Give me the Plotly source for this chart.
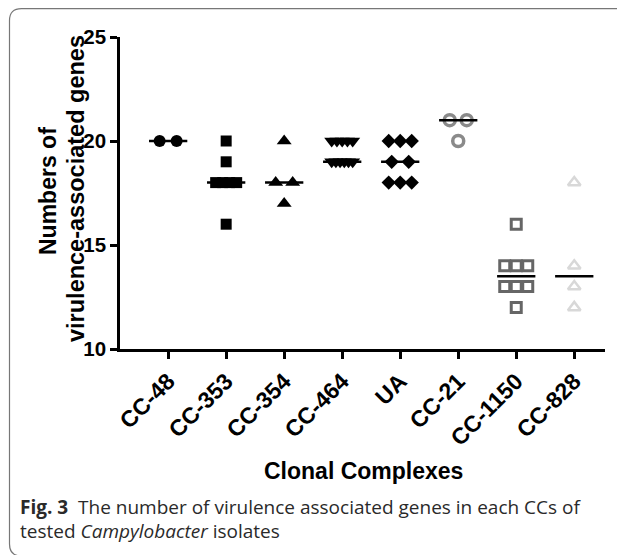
import plotly.graph_objects as go
import numpy as np
from collections import Counter

# ---- data ----
categories = ["CC-48", "CC-353", "CC-354", "CC-464", "UA", "CC-21", "CC-1150", "CC-828"]
cc48 = [20, 20]
cc353 = [20, 19, 18, 18, 18, 18, 16]
cc354 = [20, 18, 18, 17]
cc464 = [20, 20, 20, 20, 20, 19, 19, 19, 19, 19, 19]
ua = [20, 20, 20, 19, 19, 18, 18, 18]
cc21 = [21, 21, 20]
cc1150 = [16, 14, 14, 14, 13, 13, 13, 12]
cc828 = [18, 14, 13, 12]
groups = [cc48, cc353, cc354, cc464, ua, cc21, cc1150, cc828]
y_ticks = [10, 15, 20, 25]

# ---- styles ----
symbols = ["circle", "square", "triangle-up", "triangle-down", "diamond",
           "circle-open", "square-open", "triangle-up-open"]
colors = ["black", "black", "black", "black", "black", "#8a8a8a", "#666666", "#d8d8d8"]
sizes = [12, 11, 13, 13, 11, 11, 10, 11]
linew = [0, 0, 0, 0, 0, 3.5, 3, 2.5]

# page has an 8px body margin: figure pixel = page pixel - 8
OFF = 8
W, H = 617, 547
L, T = 120 - OFF, 37 - OFF
pw, ph = 485, 312
R, B = W - L - pw, H - T - ph
xr = [-0.83, 7.53]
px_per_unit = pw / (xr[1] - xr[0])


def X(px):  # page px -> paper x
    return (px - OFF - L) / pw


def Y(py):  # page px -> paper y
    return (H - B - (py - OFF)) / ph


fig = go.Figure()
for i, vals in enumerate(groups):
    cnt = Counter(vals)
    xs, ys = [], []
    for v, n in cnt.items():
        if n == 1:
            step = 0
        elif n == 2:
            step = 17
        elif n == 3:
            step = 11.5
        else:
            step = 21 / (n - 1)
        for k in range(n):
            off = (k - (n - 1) / 2) * step / px_per_unit
            xs.append(i + off)
            ys.append(v)
    fig.add_trace(go.Scatter(
        x=xs, y=ys, mode="markers",
        marker=dict(symbol=symbols[i], size=sizes[i], color=colors[i],
                    line=dict(width=linew[i], color=colors[i])),
        showlegend=False, hoverinfo="skip"))

for i, vals in enumerate(groups):
    med = float(np.median(vals))
    fig.add_trace(go.Scatter(
        x=[i - 0.33, i + 0.33], y=[med, med], mode="lines",
        line=dict(color="black", width=2.5), showlegend=False, hoverinfo="skip"))

fig.update_layout(
    width=W, height=H,
    margin=dict(l=L, r=R, t=T, b=B),
    paper_bgcolor="white", plot_bgcolor="white",
    font=dict(family="Liberation Sans, Arial", color="black"),
    xaxis=dict(range=xr, tickmode="array", tickvals=list(range(len(categories))),
               ticktext=[f"<b>{c}</b>" for c in categories], tickangle=-45,
               showline=True, linecolor="black", linewidth=2.5,
               ticks="outside", ticklen=7, tickwidth=2.5, tickcolor="black",
               showgrid=False, zeroline=False, tickfont=dict(size=23)),
    yaxis=dict(range=[10, 25], tickmode="array", tickvals=y_ticks,
               ticktext=[f"<b>{t}</b>" for t in y_ticks],
               showline=True, linecolor="black", linewidth=2.5,
               ticks="outside", ticklen=7, tickwidth=2.5, tickcolor="black",
               showgrid=False, zeroline=False, tickfont=dict(size=20.5)),
)

ann = []
ann.append(dict(text="<b>Numbers of</b>", textangle=-90, x=X(48), y=Y(191),
                xref="paper", yref="paper", xanchor="center", yanchor="middle",
                showarrow=False, font=dict(size=23)))
ann.append(dict(text="<b>virulence-associated genes</b>", textangle=-90, x=X(76),
                y=Y(189), xref="paper", yref="paper", xanchor="center",
                yanchor="middle", showarrow=False, font=dict(size=23.5)))
ann.append(dict(text="<b>Clonal Complexes</b>", x=X(363), y=Y(471),
                xref="paper", yref="paper", xanchor="center", yanchor="middle",
                showarrow=False, font=dict(size=23)))
cap_font = dict(family="Open Sans, Noto Sans", size=19, color="#2a2a2a")
ann.append(dict(text="<b>Fig. 3</b>  The number of virulence associated genes in each CCs of",
                x=X(18), y=Y(507), xref="paper", yref="paper",
                xanchor="left", yanchor="middle", showarrow=False, font=cap_font))
ann.append(dict(text="tested <i>Campylobacter</i> isolates",
                x=X(18), y=Y(531), xref="paper", yref="paper",
                xanchor="left", yanchor="middle", showarrow=False, font=cap_font))
fig.update_layout(annotations=ann)

# card border with rounded left corners
x0, y0, x1, y1, r = 9.5, 8.6, 640, 556, 12
path = (f"M {X(x1)} {Y(y0)} L {X(x0 + r)} {Y(y0)} Q {X(x0)} {Y(y0)} {X(x0)} {Y(y0 + r)} "
        f"L {X(x0)} {Y(y1 - r)} Q {X(x0)} {Y(y1)} {X(x0 + r)} {Y(y1)}")
fig.add_shape(type="path", path=path, xref="paper", yref="paper",
              line=dict(color="#777", width=1.2))

fig.write_html("out.html")
